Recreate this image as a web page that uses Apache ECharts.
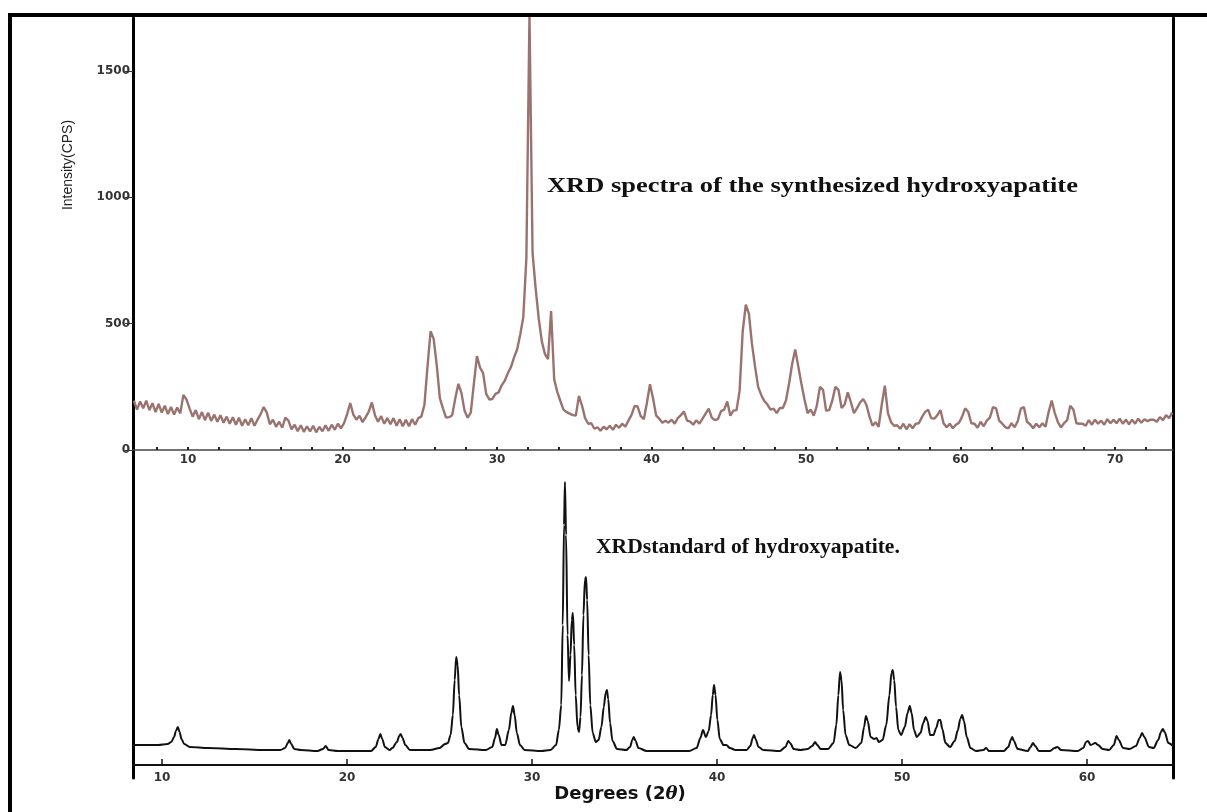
<!DOCTYPE html>
<html>
<head>
<meta charset="utf-8">
<script src="https://cdn.jsdelivr.net/npm/echarts@6/dist/echarts.min.js"></script>
<style>
  html, body { margin: 0; padding: 0; background: #fff; overflow: hidden; }
  #chart { width: 1207px; height: 812px; position: absolute; left: 0; top: 0; }
  #frame { position: absolute; left: 8px; top: 13px; width: 1400px; height: 1000px;
           border-left: 4px solid #000; border-top: 4px solid #000; pointer-events: none; }
</style>
</head>
<body>
<div id="chart"></div>
<div id="frame"></div>
<script>
// ---- Synthesized hydroxyapatite (measured, 2θ sampling grid) ----
const thetaStart = 6.5;
const thetaStep = 0.2;
const synthCounts = [
  195,160,192,
  165,195,158,185,150,
  182,148,175,142,170,
  140,168,145,218,200,
  165,132,158,122,150,
  118,148,115,140,112,
  138,108,132,104,130,
  100,128,96,122,98,
  126,96,120,142,170,
  148,102,120,92,112,
  88,128,116,82,100,
  74,98,72,94,74,
  96,70,92,74,98,
  76,100,80,104,86,
  106,142,186,140,120,
  136,110,130,152,188,
  138,112,134,104,126,
  102,126,96,122,94,
  120,94,122,100,126,
  132,178,330,470,440,
  335,205,165,128,130,
  138,205,262,225,155,
  128,148,262,372,326,
  304,222,200,202,222,
  228,256,274,304,328,
  366,398,456,526,760,
  1720,780,640,520,430,
  380,360,550,280,230,
  194,160,150,144,138,
  136,214,176,126,104,
  106,84,90,76,92,
  82,96,80,100,88,
  104,92,116,138,174,
  172,134,122,186,260,
  204,136,124,108,116,
  108,120,104,126,138,
  152,116,112,100,118,
  104,124,144,164,128,
  118,122,154,160,192,
  136,156,158,234,470,
  575,540,420,330,250,
  218,194,180,160,164,
  146,166,166,196,262,
  340,398,330,262,200,
  146,160,136,176,250,
  238,156,158,196,250,
  238,166,180,228,190,
  146,166,188,202,180,
  134,96,110,92,180,
  255,146,110,96,98,
  84,104,82,102,86,
  104,106,130,150,160,
  126,124,138,158,106,
  90,104,86,100,108,
  132,165,150,106,104,
  88,112,94,116,128,
  170,165,116,104,90,
  86,106,90,114,164,
  170,112,102,86,104,
  90,106,92,150,196,
  146,110,90,106,118,
  175,160,106,104,104,
  96,118,100,120,104,
  116,100,122,106,120,
  106,124,104,120,102,
  120,104,124,108,122,
  114,120,120,112,130,
  118,138,126,148
];

// ---- Hydroxyapatite standard pattern ----
const stdTheta = [
  8.43,9.0,9.8,10.3,10.5,10.65,10.75,10.85,10.95,11.05,11.2,11.5,12.5,14,15.5,
  16.4,16.65,16.8,16.88,16.98,17.15,17.5,18.4,18.7,18.85,19.0,19.5,
  21.3,21.55,21.7,21.8,21.9,22.05,22.3,22.45,22.7,22.82,22.9,23.0,23.15,23.4,
  24.5,25.0,25.3,25.45,25.6,25.72,25.82,25.9,25.98,26.06,26.18,26.35,26.6,
  27.5,27.85,28.0,28.1,28.2,28.35,28.55,28.75,28.88,28.97,29.06,29.18,29.35,29.6,
  30.5,31.0,31.3,31.45,31.58,31.66,31.73,31.78,31.84,31.92,32.0,32.08,32.15,32.21,
  32.28,32.36,32.46,32.54,32.62,32.7,32.78,32.86,32.92,32.98,33.06,33.15,33.28,
  33.45,33.6,33.75,33.88,33.98,34.05,34.12,34.22,34.35,34.6,
  35.1,35.3,35.42,35.5,35.6,35.75,36.2,38.5,38.9,39.1,39.24,39.4,39.55,39.68,
  39.77,39.84,39.92,40.02,40.15,40.35,40.5,40.7,41.0,41.6,41.8,41.93,42.0,42.08,
  42.25,42.5,43.4,43.7,43.85,43.95,44.15,44.5,44.9,45.15,45.3,45.42,45.6,
  46.0,46.3,46.45,46.56,46.65,46.73,46.82,46.95,47.15,47.5,47.8,47.95,48.05,
  48.15,48.3,48.5,48.62,48.75,48.95,49.15,49.32,49.43,49.5,49.58,49.68,49.8,
  49.95,50.15,50.3,50.42,50.52,50.65,50.8,51.0,51.15,51.28,51.38,51.52,51.7,
  51.85,51.98,52.07,52.18,52.35,52.6,52.85,53.02,53.15,53.25,53.35,53.5,53.7,
  54.0,54.4,54.55,54.7,55.5,55.75,55.88,55.96,56.05,56.25,56.8,56.95,57.08,
  57.2,57.4,58.0,58.25,58.4,58.6,59.5,59.8,59.95,60.05,60.2,60.45,60.6,60.85,
  61.2,61.45,61.6,61.72,61.95,62.3,62.65,62.85,62.98,63.1,63.35,63.6,63.85,
  64.0,64.1,64.2,64.4,64.65
];
const stdCounts = [
  20,20,20,21,23,28,34,38,33,26,21,18,17,16,15,
  15,17,22,25,21,16,15,14,16,19,15,14,
  14,18,26,31,26,18,15,17,23,29,31,27,20,15,
  15,17,21,22,30,50,85,108,100,70,38,22,16,
  15,18,27,36,30,20,20,35,52,59,50,32,20,15,
  14,15,20,35,60,140,240,283,230,130,84,110,145,152,
  120,70,38,33,48,90,150,185,188,165,110,60,32,
  23,25,38,58,72,75,66,42,24,16,
  15,18,25,28,24,17,14,14,17,27,35,28,34,50,
  70,80,70,45,26,20,20,17,15,15,19,27,30,26,
  18,15,14,18,24,22,16,15,16,19,23,20,16,
  16,22,40,70,93,85,55,30,20,17,22,38,49,
  44,28,26,27,23,25,40,70,92,95,85,58,35,
  30,38,52,59,52,35,28,32,42,48,44,30,30,
  37,45,45,36,22,18,24,35,46,50,44,28,17,
  14,15,17,14,14,18,25,28,24,16,14,18,22,
  19,14,14,17,18,15,14,17,23,24,20,22,20,16,
  15,20,29,25,17,16,19,27,32,28,18,17,25,
  33,36,33,22,19
];

// ---- Axis tick / label values ----
const topXLabels = [10, 20, 30, 40, 50, 60, 70];
const topXTicks = [8,10,12,14,16,18,20,22,24,26,28,30,32,34,36,38,40,42,44,46,48,50,52,54,56,58,60,62,64,66,68,70,72];
const topYLabels = [0, 500, 1000, 1500];
const bottomXLabels = [10, 20, 30, 40, 50, 60];

const synthData = synthCounts.map((v, i) => [+(thetaStart + i * thetaStep).toFixed(2), v]);
const stdData = stdTheta.map((t, i) => [t, stdCounts[i]]);

const chart = echarts.init(document.getElementById('chart'), null, { renderer: 'canvas' });

const labelFont = { fontFamily: 'DejaVu Sans', fontSize: 12, fontWeight: 'bold', color: '#333' };
const plain = v => String(v);

chart.setOption({
  backgroundColor: '#ffffff',
  animation: false,
  grid: [
    { left: 133, right: 34, top: 18, height: 432 },
    { left: 133, right: 34, top: 450, height: 328 }
  ],
  xAxis: [
    {
      type: 'value', gridIndex: 0, min: 6.44, max: 73.75,
      axisLine: { onZero: true, lineStyle: { color: '#444', width: 1.5 } },
      axisTick: { show: true, inside: true, length: 3, customValues: topXTicks, lineStyle: { color: '#222', width: 2 } },
      axisLabel: Object.assign({ customValues: topXLabels, margin: 4, formatter: plain }, labelFont),
      splitLine: { show: false }
    },
    {
      type: 'value', gridIndex: 1, min: 8.43, max: 64.65,
      name: '{a|Degrees (2}{b|θ}{a|)}',
      nameLocation: 'middle', nameGap: -2,
      nameTextStyle: {
        padding: [0, 66, 0, 0],
        rich: {
          a: { fontFamily: 'DejaVu Sans', fontSize: 18, fontWeight: 'bold', color: '#111' },
          b: { fontFamily: 'DejaVu Serif', fontSize: 18, fontWeight: 'bold', fontStyle: 'italic', color: '#111' }
        }
      },
      axisLine: { onZero: true, lineStyle: { color: '#111', width: 2 } },
      axisTick: { show: true, inside: true, length: 6, customValues: bottomXLabels, lineStyle: { color: '#111', width: 1.5 } },
      axisLabel: Object.assign({ customValues: bottomXLabels, margin: -6, formatter: plain }, labelFont),
      splitLine: { show: false }
    }
  ],
  yAxis: [
    {
      type: 'value', gridIndex: 0, min: 0, max: 1710, position: 'left',
      name: 'Intensity(CPS)', nameLocation: 'middle', nameGap: 58, nameRotate: 90,
      nameTextStyle: { fontFamily: 'Liberation Sans', fontSize: 14, color: '#222', padding: [0, 0, 0, 138] },
      axisLine: { show: true, lineStyle: { color: '#000', width: 3 } },
      axisTick: { show: true, length: 8, customValues: topYLabels, lineStyle: { color: '#333', width: 1 } },
      axisLabel: Object.assign({ customValues: topYLabels, margin: 3, formatter: plain }, labelFont),
      splitLine: { show: false }
    },
    {
      type: 'value', gridIndex: 0, min: 0, max: 1710, position: 'right',
      axisLine: { show: true, lineStyle: { color: '#000', width: 3 } },
      axisTick: { show: false }, axisLabel: { show: false }, splitLine: { show: false }
    },
    {
      type: 'value', gridIndex: 1, min: -13, max: 315, position: 'left',
      axisLine: { show: true, onZero: false, lineStyle: { color: '#000', width: 3 } },
      axisTick: { show: false }, axisLabel: { show: false }, splitLine: { show: false }
    },
    {
      type: 'value', gridIndex: 1, min: -13, max: 315, position: 'right',
      axisLine: { show: true, onZero: false, lineStyle: { color: '#000', width: 3 } },
      axisTick: { show: false }, axisLabel: { show: false }, splitLine: { show: false }
    }
  ],
  series: [
    {
      name: 'XRD spectra of the synthesized hydroxyapatite',
      type: 'line', xAxisIndex: 0, yAxisIndex: 0,
      data: synthData, showSymbol: false, clip: true,
      lineStyle: { color: '#9a7370', width: 2.4 }
    },
    {
      name: 'XRDstandard of hydroxyapatite.',
      type: 'line', xAxisIndex: 1, yAxisIndex: 2,
      data: stdData, showSymbol: false, smooth: 0.3, smoothMonotone: 'x', clip: true,
      lineStyle: { color: '#111', width: 2 }
    }
  ],
  graphic: [
    {
      type: 'text', x: 547, y: 187, scaleX: 1.26,
      style: { text: 'XRD spectra of the synthesized hydroxyapatite', font: 'bold 21px "Liberation Serif"', fill: '#111', verticalAlign: 'middle' }
    },
    {
      type: 'text', x: 596, y: 548, scaleX: 1.08,
      style: { text: 'XRDstandard of hydroxyapatite.', font: 'bold 20px "Liberation Serif"', fill: '#111', verticalAlign: 'middle' }
    }
  ]
});
</script>
</body>
</html>
